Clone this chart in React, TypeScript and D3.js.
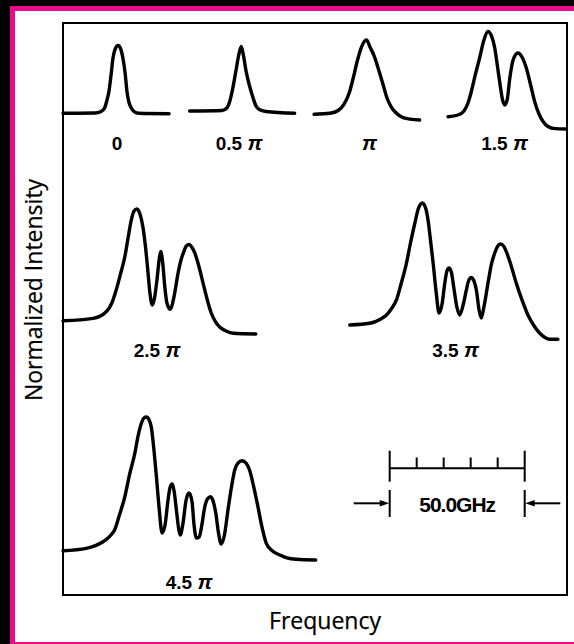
import React from 'react';
import * as d3 from 'd3';

type Pt = [number, number];

// Each trace: [frequency from the trace's first point (GHz), intensity above its baseline (a.u.)]
const trace0: Pt[] = [
  [0, 0], [11.9, 0.004], [14.1, 0.026], [15.4, 0.078], [16.3, 0.196], [17.0, 0.318],
  [17.8, 0.563], [18.5, 0.809], [19.4, 0.953], [20.4, 0.997], [21.3, 0.953], [22.2, 0.809],
  [23.0, 0.594], [23.7, 0.318], [24.4, 0.166], [25.3, 0.078], [26.3, 0.026], [28.1, 0],
  [39.3, -0.006],
];

const trace05: Pt[] = [
  [0, 0], [12.0, 0.007], [13.8, 0.044], [14.9, 0.147], [16.0, 0.338], [17.2, 0.603],
  [18.2, 0.824], [19.1, 0.949], [19.9, 0.824], [20.9, 0.588], [22.1, 0.382], [23.4, 0.206],
  [24.5, 0.081], [25.8, 0.022], [28.2, -0.007], [38.9, -0.034],
];

const trace10: Pt[] = [
  [0, 0], [5.9, 0.015], [8.9, 0.056], [11.1, 0.151], [13.0, 0.313], [14.4, 0.519],
  [15.9, 0.769], [17.4, 0.975], [19.4, 1.093], [20.7, 0.99], [22.4, 0.843], [23.7, 0.681],
  [25.6, 0.431], [27.0, 0.24], [28.6, 0.107], [30.4, 0.019], [32.9, -0.047], [39.1, -0.084],
];

const trace15: Pt[] = [
  [0, 0], [3.7, 0.025], [5.9, 0.084], [7.4, 0.201], [8.6, 0.363], [10.0, 0.599],
  [11.7, 0.863], [13.3, 1.128], [14.8, 1.253], [16.1, 1.187], [17.3, 1.01], [18.3, 0.746],
  [19.3, 0.466], [20.2, 0.246], [21.0, 0.172], [21.9, 0.246], [22.9, 0.569], [24.1, 0.834],
  [25.9, 0.937], [27.4, 0.878], [29.0, 0.716], [30.6, 0.466], [32.1, 0.222], [33.7, 0.04],
  [35.2, -0.071], [37.0, -0.144], [39.6, -0.176], [43.8, -0.181],
];

const trace25: Pt[] = [
  [0, 0], [11.1, 0.035], [16.0, 0.132], [18.1, 0.26], [19.7, 0.451], [21.3, 0.687],
  [22.9, 0.941], [24.1, 1.216], [25.3, 1.481], [26.3, 1.613], [27.4, 1.643], [28.5, 1.569],
  [29.6, 1.378], [30.6, 1.069], [31.5, 0.701], [32.2, 0.407], [33.1, 0.231], [33.9, 0.334],
  [34.8, 0.599], [35.6, 0.893], [36.2, 1.018], [36.9, 0.863], [37.7, 0.5], [38.5, 0.26],
  [39.7, 0.168], [41.1, 0.349], [42.6, 0.697], [43.7, 0.893], [44.7, 1.01], [45.7, 1.099],
  [46.7, 1.121], [47.8, 1.076], [48.8, 0.996], [50.4, 0.79], [51.9, 0.55], [53.3, 0.326],
  [54.9, 0.113], [56.5, -0.019], [58.0, -0.093], [60.4, -0.151], [63.0, -0.185], [71.4, -0.196],
];

const trace35: Pt[] = [
  [0, 0], [7.4, 0.025], [11.2, 0.081], [13.6, 0.147], [15.5, 0.243], [17.3, 0.368],
  [19.0, 0.603], [21.0, 0.907], [22.5, 1.206], [24.1, 1.496], [25.5, 1.721], [26.9, 1.794],
  [28.1, 1.721], [29.0, 1.544], [29.9, 1.25], [30.9, 0.907], [32.0, 0.485], [33.1, 0.176],
  [34.2, 0.309], [35.2, 0.613], [36.0, 0.794], [36.8, 0.838], [37.7, 0.765], [38.5, 0.563],
  [39.6, 0.279], [40.7, 0.147], [42.0, 0.294], [43.2, 0.515], [44.0, 0.647], [45.0, 0.699],
  [46.0, 0.647], [46.9, 0.515], [47.9, 0.221], [48.7, 0.103], [49.7, 0.265], [51.2, 0.613],
  [52.5, 0.897], [53.7, 1.059], [54.7, 1.154], [55.8, 1.191], [57.0, 1.162], [58.0, 1.078],
  [59.7, 0.882], [61.7, 0.613], [63.8, 0.368], [66.0, 0.147], [68.3, -0.015], [70.4, -0.122],
  [72.3, -0.184], [74.1, -0.21], [77.1, -0.21],
];

const trace45: Pt[] = [
  [0, 0], [8.6, 0.035], [14.8, 0.132], [17.4, 0.216], [19.1, 0.304], [20.9, 0.525],
  [22.9, 0.794], [24.6, 1.113], [26.6, 1.432], [27.8, 1.687], [29.0, 1.871], [30.0, 1.951],
  [30.9, 1.966], [31.9, 1.922], [32.7, 1.819], [33.5, 1.554], [34.6, 1.088], [35.6, 0.628],
  [36.7, 0.26], [37.8, 0.378], [38.9, 0.746], [39.7, 0.937], [40.5, 0.981], [41.2, 0.863],
  [42.0, 0.599], [42.8, 0.334], [43.4, 0.231], [44.4, 0.393], [45.6, 0.746], [46.7, 0.849],
  [47.8, 0.716], [48.5, 0.393], [49.4, 0.187], [50.4, 0.201], [51.3, 0.349], [52.5, 0.643],
  [53.5, 0.76], [54.7, 0.794], [55.7, 0.716], [56.6, 0.55], [57.6, 0.26], [58.6, 0.099],
  [59.8, 0.231], [61.1, 0.599], [62.4, 0.937], [63.6, 1.187], [64.8, 1.29], [66.3, 1.324],
  [67.8, 1.29], [69.1, 1.187], [70.5, 0.966], [72.2, 0.647], [73.7, 0.349], [75.3, 0.109],
  [77.6, -0.004], [80.3, -0.063], [82.9, -0.104], [86.4, -0.126], [93.6, -0.137],
];

const phaseLabels = ['0', '0.5 π', 'π', '1.5 π', '2.5 π', '3.5 π', '4.5 π'];
const traces = [trace0, trace05, trace10, trace15, trace25, trace35, trace45];

// Where each trace sits: frequency offset (GHz) and baseline (a.u.), plus label anchor in px
const traceLayout = [
  { f0: 0, i0: 7.084, lx: 117, ly: 149.5 },
  { f0: 46.9, i0: 7.118, lx: 239, ly: 149.5 },
  { f0: 93.0, i0: 7.069, lx: 369.5, ly: 149.5 },
  { f0: 142.6, i0: 7.034, lx: 504.5, ly: 149.5 },
  { f0: 0, i0: 4.034, lx: 157, ly: 356.5 },
  { f0: 106.2, i0: 3.971, lx: 455.5, ly: 356.5 },
  { f0: 0, i0: 0.651, lx: 189, ly: 588.5 },
];

const scaleBarStart = 121.0; // GHz
const scaleBarSpan = 50; // GHz
const scaleBarDivisions = 5;
const scaleBarLabel = '50.0GHz';

const xTitle = 'Frequency';
const yTitle = 'Normalized Intensity';

const W = 574;
const H = 644;
const box = { x0: 63, x1: 567, y0: 23, y1: 595 };
const MAGENTA = '#eb0a8c';

const xScale = d3.scaleLinear().domain([0, 186.67]).range([box.x0, box.x1]);
const yScale = d3.scaleLinear().domain([0, 8.412]).range([box.y1, box.y0]);

function PhaseLabel({ text, x, y }: { text: string; x: number; y: number }) {
  const parts = text.split('π');
  return (
    <text
      x={x}
      y={y}
      textAnchor="middle"
      fontFamily="'Liberation Sans', Arial, sans-serif"
      fontSize={19}
      fontWeight="bold"
      fill="#000"
    >
      <tspan>{parts[0]}</tspan>
      {text.includes('π') && (
        <tspan fontStyle="italic" fontSize={21}>π</tspan>
      )}
    </text>
  );
}

export default function App() {
  const ticks = d3.range(scaleBarDivisions + 1).map(
    (k) => scaleBarStart + (k * scaleBarSpan) / scaleBarDivisions
  );
  const barL = xScale(scaleBarStart);
  const barR = xScale(scaleBarStart + scaleBarSpan);
  const barY = 468.3;
  const arrowY = 503.3;

  return (
    <svg
      width={W}
      height={H}
      viewBox={`0 0 ${W} ${H}`}
      style={{ position: 'absolute', left: 0, top: 0, display: 'block' }}
    >
      <rect x={0} y={0} width={W} height={H} fill="#000" />
      <rect x={10} y={6} width={W - 10} height={H - 6} fill={MAGENTA} />
      <rect x={15} y={11} width={W - 15} height={631} fill="#fff" />

      <rect
        x={box.x0}
        y={box.y0}
        width={box.x1 - box.x0}
        height={box.y1 - box.y0}
        fill="none"
        stroke="#000"
        strokeWidth={2}
      />

      {traces.map((data, i) => {
        const { f0, i0 } = traceLayout[i];
        const line = d3
          .line<Pt>()
          .x((d) => xScale(f0 + d[0]))
          .y((d) => yScale(i0 + d[1]))
          .curve(d3.curveMonotoneX);
        return (
          <path
            key={`trace-${i}`}
            d={line(data) ?? ''}
            fill="none"
            stroke="#000"
            strokeWidth={3.4}
            strokeLinejoin="round"
            strokeLinecap="round"
          />
        );
      })}

      {phaseLabels.map((t, i) => (
        <PhaseLabel key={`lab-${i}`} text={t} x={traceLayout[i].lx} y={traceLayout[i].ly} />
      ))}

      {/* frequency scale bar */}
      <g stroke="#000" strokeWidth={2} fill="none">
        <line x1={barL} x2={barR} y1={barY} y2={barY} />
        {ticks.map((t, k) => {
          const end = k === 0 || k === ticks.length - 1;
          return (
            <line
              key={`tick-${k}`}
              x1={xScale(t)}
              x2={xScale(t)}
              y1={end ? 450.7 : 457.5}
              y2={end ? 481.7 : barY}
            />
          );
        })}
        <line x1={barL} x2={barL} y1={490} y2={517} />
        <line x1={barR} x2={barR} y1={490} y2={517} />
        <line x1={353.7} x2={barL - 6} y1={arrowY} y2={arrowY} />
        <line x1={barR + 6} x2={560.3} y1={arrowY} y2={arrowY} />
      </g>
      <polygon
        points={`${barL - 0.5},${arrowY} ${barL - 10},${arrowY - 3.2} ${barL - 10},${arrowY + 3.2}`}
        fill="#000"
      />
      <polygon
        points={`${barR + 0.5},${arrowY} ${barR + 10},${arrowY - 3.2} ${barR + 10},${arrowY + 3.2}`}
        fill="#000"
      />
      <text
        x={(barL + barR) / 2}
        y={512}
        textAnchor="middle"
        fontFamily="'Liberation Sans', Arial, sans-serif"
        fontSize={21}
        fontWeight="bold"
        letterSpacing={-1}
        fill="#000"
      >
        {scaleBarLabel}
      </text>

      <text
        x={325}
        y={628.5}
        textAnchor="middle"
        fontFamily="'Open Sans', sans-serif"
        fontSize={23}
        fill="#000"
        stroke="#000"
        strokeWidth={0.25}
      >
        {xTitle}
      </text>
      <text
        transform={`translate(41.5, 290) rotate(-90)`}
        textAnchor="middle"
        fontFamily="'Open Sans', sans-serif"
        fontSize={23}
        fill="#000"
        stroke="#000"
        strokeWidth={0.25}
      >
        {yTitle}
      </text>
    </svg>
  );
}
